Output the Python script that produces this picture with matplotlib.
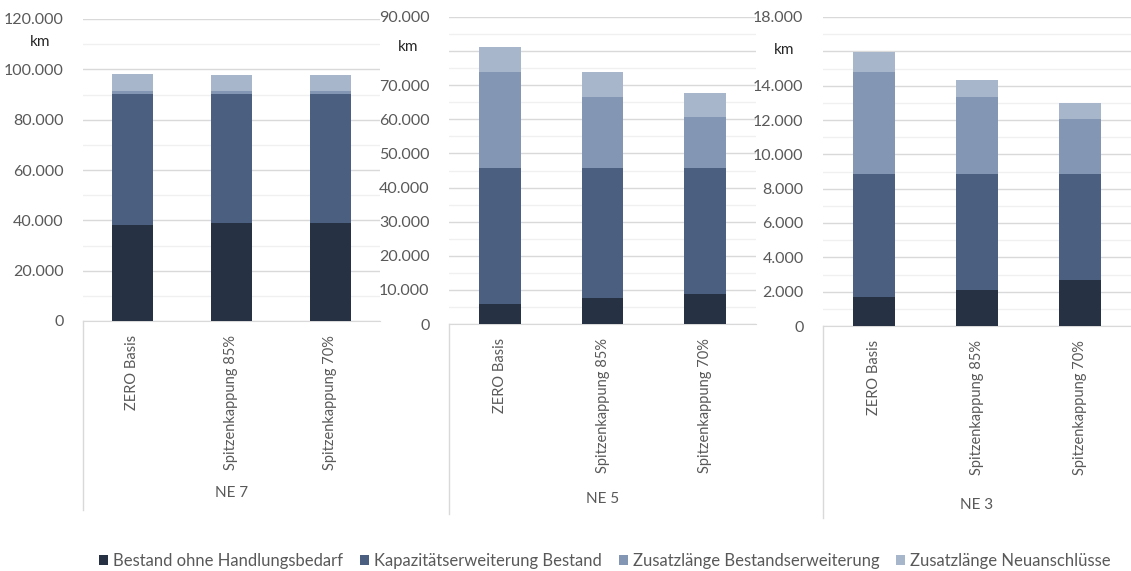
import matplotlib.pyplot as plt
from matplotlib.patches import Patch
from matplotlib.lines import Line2D
from matplotlib.ticker import MultipleLocator, FuncFormatter

plt.rcParams['font.family'] = ['Lato', 'DejaVu Sans']

scenarios = ['ZERO Basis', 'Spitzenkappung 85%', 'Spitzenkappung 70%']
series = ['Bestand ohne Handlungsbedarf', 'Kapazitätserweiterung Bestand',
          'Zusatzlänge Bestandserweiterung', 'Zusatzlänge Neuanschlüsse']
colors = ['#263244', '#4b6080', '#8396b4', '#a8b6cc']

# NE 7
ne7_bestand = [38300, 39100, 39100]
ne7_kapazitaet = [51900, 51100, 51100]
ne7_zus_bestand = [1300, 1300, 1300]
ne7_zus_neu = [6600, 6400, 6400]

# NE 5
ne5_bestand = [5900, 7500, 8900]
ne5_kapazitaet = [39800, 38200, 36800]
ne5_zus_bestand = [28100, 20900, 14900]
ne5_zus_neu = [7300, 7200, 7200]

# NE 3
ne3_bestand = [1700, 2070, 2670]
ne3_kapazitaet = [7140, 6770, 6170]
ne3_zus_bestand = [5960, 4490, 3190]
ne3_zus_neu = [1150, 1010, 940]

groups = ['NE 7', 'NE 5', 'NE 3']
group_data = [
    [ne7_bestand, ne7_kapazitaet, ne7_zus_bestand, ne7_zus_neu],
    [ne5_bestand, ne5_kapazitaet, ne5_zus_bestand, ne5_zus_neu],
    [ne3_bestand, ne3_kapazitaet, ne3_zus_bestand, ne3_zus_neu],
]
ymax = [120000, 90000, 18000]
major = [20000, 10000, 2000]
hidden_tick = [None, 80000, 16000]

W, H = 1131, 571
fig = plt.figure(figsize=(W / 100, H / 100), dpi=100)

# axes boxes in pixels: left, right, bottom(y0 pixel), top pixel
boxes = [(83, 380, 321, 19), (449, 756, 324, 17), (823, 1131, 326, 17)]
km_pos = [(40, 42), (408, 47), (784, 50)]
grey = '#595959'

def fmt(v, hide):
    if hide is not None and abs(v - hide) < 1:
        return ''
    return f'{v:,.0f}'.replace(',', '.')

for i, (l, r, b, t) in enumerate(boxes):
    ax = fig.add_axes([l / W, (H - b) / H, (r - l) / W, (b - t) / H])
    x = range(len(scenarios))
    bottom = [0, 0, 0]
    for vals, c in zip(group_data[i], colors):
        ax.bar(x, vals, 0.41, bottom=bottom, color=c, zorder=3)
        bottom = [a + v for a, v in zip(bottom, vals)]
    ax.set_xlim(-0.5, 2.5)
    ax.set_ylim(0, ymax[i])
    ax.yaxis.set_major_locator(MultipleLocator(major[i]))
    ax.yaxis.set_minor_locator(MultipleLocator(major[i] / 2))
    h = hidden_tick[i]
    ax.yaxis.set_major_formatter(FuncFormatter(lambda v, p, h=h: fmt(v, h)))
    ax.grid(axis='y', which='major', color='#d9d9d9', lw=1, zorder=0)
    ax.grid(axis='y', which='minor', color='#f0f0f0', lw=1, zorder=0)
    for s in ['left', 'right', 'top']:
        ax.spines[s].set_visible(False)
    ax.spines['bottom'].set_color('#d9d9d9')
    ax.tick_params(axis='y', which='both', length=0, labelsize=11.5, labelcolor=grey, pad=14)
    ax.tick_params(axis='x', length=0, labelsize=10.5, labelcolor=grey, pad=10)
    ax.set_xticks(list(x))
    ax.set_xticklabels(scenarios, rotation=90, va='top', ha='center')
    # group label and separator
    fig.text((l + r) / 2 / W, 1 - (493 + i * 6) / H, groups[i], ha='center', va='center',
             fontsize=11, color=grey)
    fig.add_artist(Line2D([l / W, l / W], [1 - b / H, 1 - (510 + i * 4) / H],
                          color='#d9d9d9', lw=1))
    kx, ky = km_pos[i]
    fig.text(kx / W, 1 - ky / H, 'km', ha='center', va='center', fontsize=11, color='#262626')

handles = [Patch(facecolor=c, edgecolor='none') for c in colors]
fig.legend(handles, series, loc='center', bbox_to_anchor=(0.535, 1 - 561 / H), ncol=4,
           frameon=False, fontsize=12, labelcolor=grey, handlelength=0.55, handleheight=0.6,
           handletextpad=0.3, columnspacing=1.0)

fig.savefig('out.png', dpi=100)
